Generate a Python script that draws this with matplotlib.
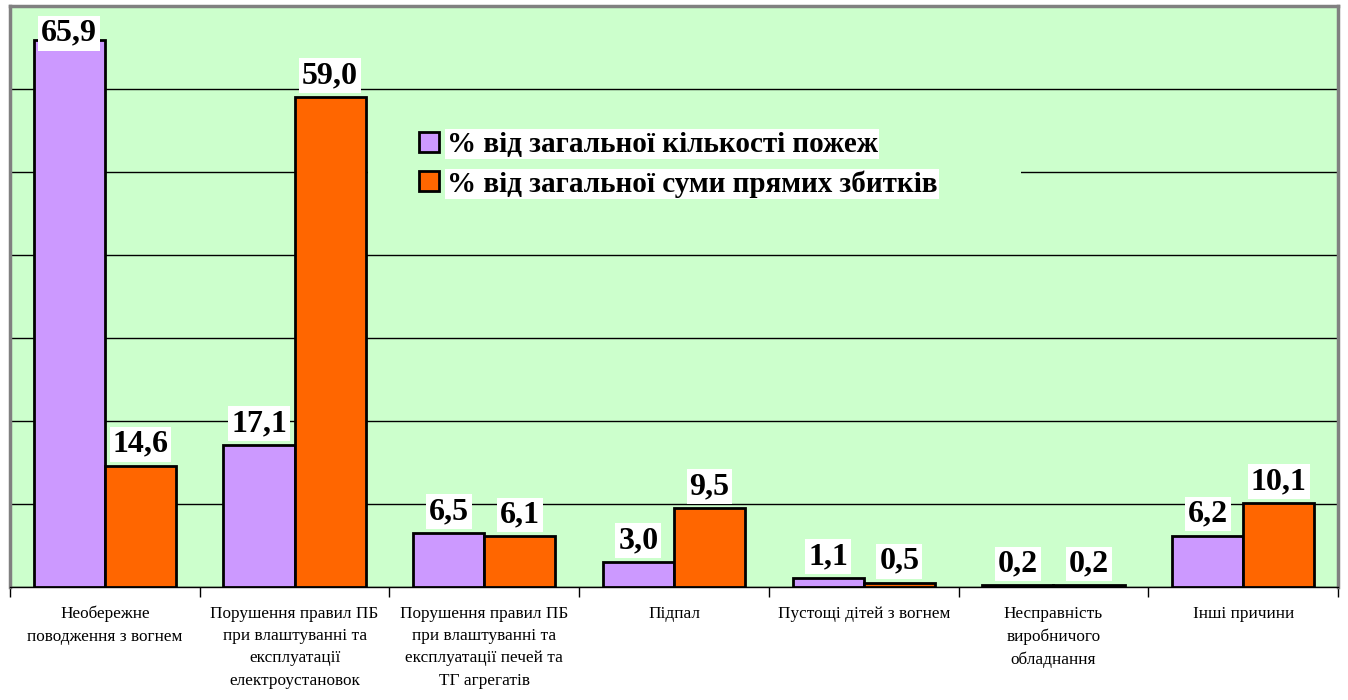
import matplotlib
matplotlib.use("Agg")
import matplotlib.pyplot as plt
from matplotlib.patches import Rectangle
import numpy as np

categories = [
    "Необережне\nповодження з вогнем",
    "Порушення правил ПБ\nпри влаштуванні та\nексплуатації\nелектроустановок",
    "Порушення правил ПБ\nпри влаштуванні та\nексплуатації печей та\nТГ агрегатів",
    "Підпал",
    "Пустощі дітей з вогнем",
    "Несправність\nвиробничого\nобладнання",
    "Інші причини",
]
fires_pct = [65.9, 17.1, 6.5, 3.0, 1.1, 0.2, 6.2]
damage_pct = [14.6, 59.0, 6.1, 9.5, 0.5, 0.2, 10.1]
series_names = ["% від загальної кількості пожеж", "% від загальної суми прямих збитків"]

serif = ["Liberation Serif", "DejaVu Serif"]
bg = "#CCFFCC"

fig = plt.figure(figsize=(13.48, 7.0), dpi=100)
ax = fig.add_axes([10/1348, 1-587/700, 1328/1348, 581/700])
ax.set_facecolor(bg)

x = np.arange(len(categories))
w = 0.375
b1 = ax.bar(x - w/2, fires_pct, w, color="#CC99FF", edgecolor="black", linewidth=2, zorder=3,
            label=series_names[0])
b2 = ax.bar(x + w/2, damage_pct, w, color="#FF6600", edgecolor="black", linewidth=2, zorder=3,
            label=series_names[1])

ax.set_xlim(-0.5, len(categories) - 0.5)
ax.set_ylim(0, 70)
ax.set_yticks(np.arange(0, 71, 10))
ax.yaxis.grid(True, color="black", linewidth=1, zorder=0)
ax.set_axisbelow(True)
ax.tick_params(axis="y", left=False, labelleft=False)

ax.set_xticks(np.arange(-0.5, len(categories), 1.0))
ax.set_xticklabels([])
ax.tick_params(axis="x", which="major", length=7, width=1, color="black", direction="out")
ax.set_xticks(x, minor=True)
ax.set_xticklabels(categories, minor=True, family=serif, fontsize=12.4, linespacing=1.53,
                   va="top")
ax.tick_params(axis="x", which="minor", length=0, pad=13.5)

for sp in ["left", "top", "right"]:
    ax.spines[sp].set_color("#808080")
    ax.spines[sp].set_linewidth(2.5)
ax.spines["bottom"].set_color("black")
ax.spines["bottom"].set_linewidth(1)

def label(bars, vals):
    for rect, v in zip(bars, vals):
        txt = f"{v:.1f}".replace(".", ",")
        cx = rect.get_x() + rect.get_width()/2
        bb = dict(facecolor="white", edgecolor="none", pad=2)
        if v > 62:
            ax.text(cx, 66.7, txt, ha="center", va="center", family=serif, fontsize=23,
                    fontweight="bold", zorder=5, bbox=bb)
        else:
            ax.annotate(txt, (cx, v), xytext=(0, 5), textcoords="offset points",
                        ha="center", va="bottom", family=serif, fontsize=23,
                        fontweight="bold", zorder=5, bbox=bb)

label(b1, fires_pct)
label(b2, damage_pct)

# legend area background (covers gridline like the original legend box)
ax.add_patch(Rectangle((368/1348, 1-212/700), (1021-368)/1348, 100/700,
                       transform=fig.transFigure, facecolor=bg, edgecolor="none", zorder=1))

leg = ax.legend(loc="upper left", bbox_to_anchor=(410/1348, 1-122/700),
                bbox_transform=fig.transFigure,
                prop=dict(family=serif, size=21, weight="bold"),
                handlelength=0.68, handleheight=0.68, handletextpad=0.28, labelspacing=0.42,
                frameon=False, borderpad=0.3, borderaxespad=0)
for t in leg.get_texts():
    t.set_bbox(dict(facecolor="white", edgecolor="none", pad=1))
for h in leg.legend_handles:
    h.set_linewidth(2)
leg.set_zorder(4)

fig.savefig("out.png", dpi=100)
